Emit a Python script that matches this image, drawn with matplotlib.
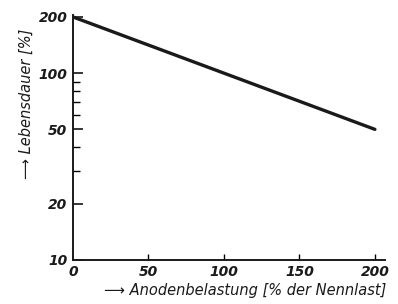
import matplotlib.pyplot as plt
from matplotlib.ticker import FixedLocator, NullFormatter

# data
belastung = [0, 200]          # % der Nennlast
lebensdauer = [200, 50]       # %

yticks = [10, 20, 50, 100, 200]
yminor = [30, 40, 60, 70, 80, 90]
xticks = [0, 50, 100, 150, 200]

fig = plt.figure(figsize=(3.98, 3.04), dpi=100)
ax = fig.add_axes([0.183, 0.145, 0.784, 0.806])

ax.plot(belastung, lebensdauer, color='#1a1a1a', lw=2.4, solid_capstyle='round')

ax.set_yscale('log')
ax.set_xlim(0, 206.6)
ax.set_ylim(10, 205)

for s in ['top', 'right']:
    ax.spines[s].set_visible(False)
for s in ['left', 'bottom']:
    ax.spines[s].set_linewidth(1.4)
    ax.spines[s].set_color('#1a1a1a')

ax.yaxis.set_major_locator(FixedLocator(yticks))
ax.yaxis.set_minor_locator(FixedLocator(yminor))
ax.yaxis.set_minor_formatter(NullFormatter())
ax.set_yticklabels([str(v) for v in yticks])
ax.set_xticks(xticks)
ax.set_xticklabels([str(v) for v in xticks])

ax.tick_params(axis='y', which='major', direction='in', length=7, width=1.1, pad=4)
ax.tick_params(axis='y', which='minor', direction='in', length=5, width=1.0)
ax.tick_params(axis='x', which='major', direction='in', length=4, width=1.0, pad=4)
ax.xaxis.get_major_ticks()[0].tick1line.set_visible(False)

for lab in ax.get_xticklabels() + ax.get_yticklabels():
    lab.set_fontstyle('italic')
    lab.set_fontweight('bold')
    lab.set_fontsize(10)
    lab.set_color('#1a1a1a')

fig.text(0.615, 0.045, '\u27f6 Anodenbelastung [% der Nennlast]', ha='center', va='center',
         fontsize=10.5, style='italic', color='#1a1a1a')
fig.text(0.065, 0.66, '\u27f6 Lebensdauer [%]', ha='center', va='center', rotation=90,
         fontsize=10.5, style='italic', color='#1a1a1a')

fig.savefig('out.png', dpi=100)
